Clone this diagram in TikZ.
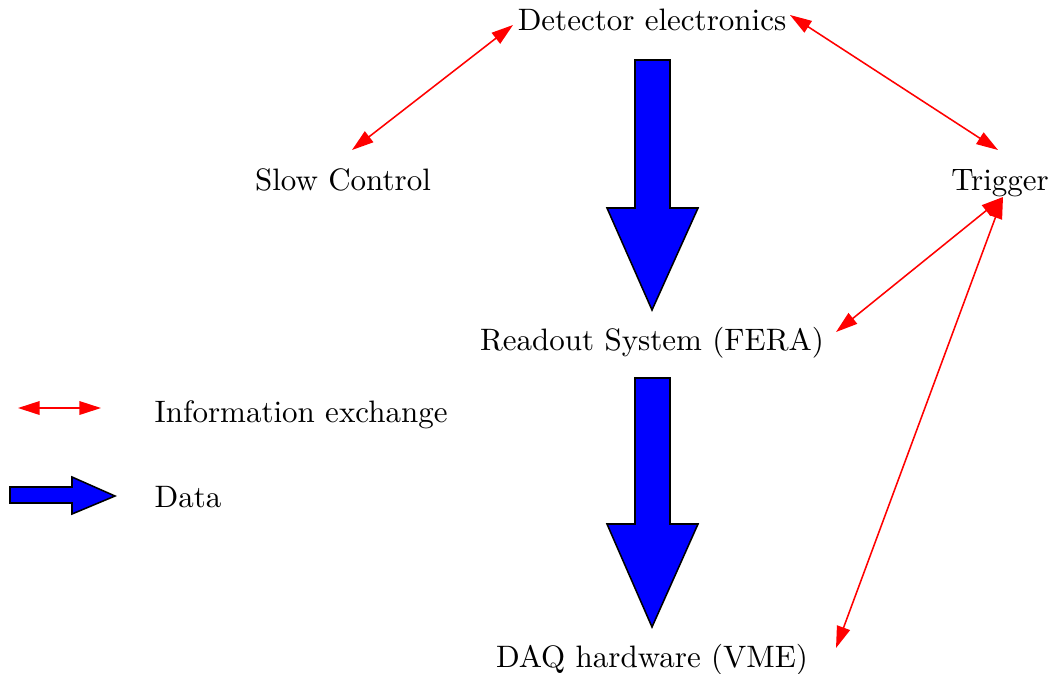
\documentclass[tikz,border=0pt]{standalone}
\usetikzlibrary{arrows.meta}
\begin{document}
\begin{tikzpicture}[x=0.32258pt,y=-0.32258pt,
  lbl/.style={anchor=base,inner sep=0pt,font=\fontsize{10}{12}\selectfont},
  info/.style={red,line width=0.5pt,{Triangle[length=7pt,width=4.4pt]}-{Triangle[length=7pt,width=4.4pt]}},
  data/.style={fill=blue,draw=black,line width=0.5pt,line join=miter}]
\useasboundingbox (0,0) rectangle (1052,673);
% nodes
\node[lbl] (det) at (652,30) {Detector electronics};
\node[lbl] (sc) at (343,190) {Slow Control};
\node[lbl] (trig) at (1000,190) {Trigger};
\node[lbl] (ro) at (652,350) {Readout System (FERA)};
\node[lbl] (daq) at (652,667) {DAQ hardware (VME)};
\node[lbl,anchor=base west] (linfo) at (154,422) {Information exchange};
\node[lbl,anchor=base west] (ldata) at (154,507) {Data};
% connector end points
\coordinate (det-w) at (513,25);
\coordinate (det-e) at (790,15);
\coordinate (sc-n) at (352,150);
\coordinate (trig-n) at (998,150);
\coordinate (trig-s) at (1003,197);
\coordinate (ro-e) at (836,332);
\coordinate (daq-e) at (836,648);
\coordinate (li-a) at (18,408);
\coordinate (li-b) at (101,408);
% information exchange
\draw[info] (sc-n) -- (det-w);
\draw[info] (det-e) -- (trig-n);
\draw[info] (trig-s) -- (ro-e);
\draw[info] (trig-s) -- (daq-e);
\draw[info] (li-a) -- (li-b);
% data arrows
\draw[data] (635,60) -- (670,60) -- (670,208) -- (698,208) -- (652,310) -- (607,208) -- (635,208) -- cycle;
\draw[data] (635,378) -- (670,378) -- (670,524) -- (698,524) -- (652,627) -- (607,524) -- (635,524) -- cycle;
\draw[data] (10,487) -- (72,487) -- (72,477) -- (115,496) -- (72,514) -- (72,503) -- (10,503) -- cycle;
\end{tikzpicture}
\end{document}
